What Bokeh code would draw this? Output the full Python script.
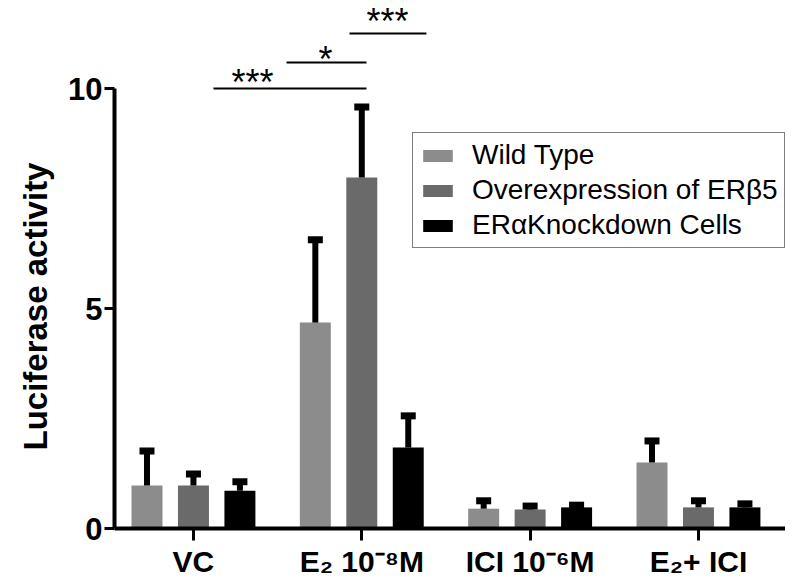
from bokeh.plotting import figure
from bokeh.models import ColumnDataSource, FixedTicker, Title, Range1d
from bokeh.core.properties import value
from bokeh.embed import file_html
from bokeh.resources import INLINE

# ---------------- data ----------------
categories = ["VC", "E₂ 10⁻⁸M", "ICI 10⁻⁶M", "E₂+ ICI"]
series_names = ["Wild Type", "Overexpression of ERβ5", "ERαKnockdown Cells"]
wild_type = [0.98, 4.68, 0.45, 1.50]
wild_type_sd = [0.78, 1.88, 0.18, 0.49]
overexpression = [0.98, 7.98, 0.43, 0.48]
overexpression_sd = [0.26, 1.60, 0.08, 0.15]
knockdown = [0.86, 1.84, 0.48, 0.48]
knockdown_sd = [0.20, 0.72, 0.05, 0.08]
y_ticks = [0, 5, 10]
sig_labels = ["***", "*", "***"]

# ---------------- layout / style ----------------
FONT = "Liberation Sans"
colors = ["#8c8c8c", "#6a6a6a", "#000000"]
offsets = [-0.276, 0.0, 0.276]
bar_w = 0.184
# significance brackets (x start, x end, y, star x, star y)
sig_x0 = [0.119, 0.553, 0.927]
sig_x1 = [1.028, 1.028, 1.384]
sig_y = [10.0, 10.59, 11.25]
sig_tx = [0.351, 0.784, 1.153]
sig_ty = [10.34, 10.86, 11.73]

p = figure(frame_width=671, frame_height=528,
           x_range=Range1d(-0.469, 3.517), y_range=Range1d(0, 12.0),
           output_backend="svg", toolbar_location=None,
           min_border_left=114, min_border_right=0, min_border_top=0,
           min_border_bottom=0)
p.outline_line_color = None
p.xgrid.grid_line_color = None
p.ygrid.grid_line_color = None
p.background_fill_color = "white"

means = [wild_type, overexpression, knockdown]
sds = [wild_type_sd, overexpression_sd, knockdown_sd]
xs_idx = list(range(len(categories)))
for name, m, sd, c, off in zip(series_names, means, sds, colors, offsets):
    xs = [i + off for i in xs_idx]
    tops = [a + b for a, b in zip(m, sd)]
    src = ColumnDataSource(dict(x=xs, top=m, err=tops))
    p.vbar(x="x", top="top", width=bar_w, bottom=0, source=src,
           fill_color=c, line_color=None, legend_label=name)
    p.segment(x0="x", y0="top", x1="x", y1="err", source=src,
              line_color="black", line_width=6)
    p.rect(x="x", y="err", width=15, height=7, width_units="screen",
           height_units="screen", source=src, fill_color="black",
           line_color=None)

# significance brackets
p.segment(x0=sig_x0, y0=sig_y, x1=sig_x1, y1=sig_y, line_color="black",
          line_width=2)
p.text(x=sig_tx, y=sig_ty, text=sig_labels, text_align="center",
       text_baseline="middle", y_offset=9, text_font=value(FONT),
       text_font_size="36px", text_color="black")

# axes
xa = p.xaxis[0]
xa.ticker = FixedTicker(ticks=xs_idx)
xa.major_label_overrides = {i: c for i, c in zip(xs_idx, categories)}
xa.axis_line_width = 4
xa.major_tick_line_width = 3
xa.major_tick_in = 0
xa.major_tick_out = 12
xa.minor_tick_line_color = None
xa.major_label_standoff = 4
xa.major_label_text_font = FONT
xa.major_label_text_font_size = "30px"
xa.major_label_text_font_style = "bold"
xa.major_label_text_color = "black"

ya = p.yaxis[0]
ya.ticker = FixedTicker(ticks=y_ticks)
ya.bounds = (0, 10)
ya.axis_line_width = 4
ya.major_tick_line_width = 3
ya.major_tick_in = 0
ya.major_tick_out = 10
ya.minor_tick_line_color = None
ya.major_label_standoff = 2
ya.major_label_text_font = FONT
ya.major_label_text_font_size = "31px"
ya.major_label_text_font_style = "bold"
ya.major_label_text_color = "black"

p.add_layout(Title(text="Luciferase activity", align="left", offset=78,
                   text_font=FONT, text_font_size="33px",
                   text_font_style="bold", text_color="black",
                   standoff=24), "left")

leg = p.legend[0]
leg.location = (298, 280)
leg.border_line_color = "black"
leg.border_line_width = 1.5
leg.background_fill_alpha = 1
leg.padding = 6
leg.spacing = 3
leg.glyph_width = 37
leg.glyph_height = 15
leg.label_standoff = 16
leg.label_text_font = FONT
leg.label_text_font_size = "28px"
leg.label_text_color = "black"

open("out.html", "w").write(file_html(p, INLINE))
